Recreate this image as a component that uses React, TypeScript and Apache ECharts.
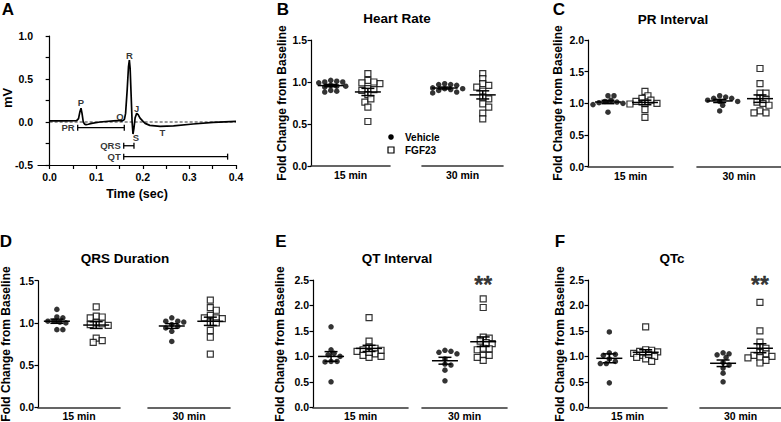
import React, { useEffect, useRef } from 'react';
import * as echarts from 'echarts';

const FONT = '"Liberation Sans", Arial, Helvetica, sans-serif';

// ---------- Panel A: representative ECG trace ----------
const ecgTime = [0, 0.03, 0.058, 0.062, 0.065, 0.0673, 0.0695, 0.0722, 0.075, 0.078, 0.083, 0.09, 0.108, 0.137, 0.158, 0.1605, 0.163, 0.1665, 0.1692, 0.1711, 0.1728, 0.175, 0.177, 0.1789, 0.181, 0.1835, 0.1868, 0.19, 0.194, 0.2, 0.205, 0.215, 0.237, 0.266, 0.308, 0.351, 0.4];
const ecgMv = [0.012, 0.014, 0.016, 0.04, 0.12, 0.16, 0.1, 0.0, -0.025, -0.031, -0.026, -0.016, 0.0, 0.012, 0.019, 0.03, 0.1, 0.38, 0.64, 0.72, 0.62, 0.3, 0.0, -0.14, -0.07, 0.05, 0.1, 0.085, 0.045, 0.01, -0.016, -0.039, -0.05, -0.046, -0.023, -0.004, 0.008];
const ecgWaveNames = ['P', 'Q', 'R', 'S', 'J', 'T'];
const ecgWaveTime = [0.0673, 0.151, 0.1711, 0.1853, 0.1868, 0.2418];
const ecgWaveMv = [0.224, 0.062, 0.779, -0.178, 0.159, -0.12];
const intervalNames = ['PR', 'QRS', 'QT'];
const intervalStart = [0.0602, 0.159, 0.159];
const intervalEnd = [0.1602, 0.181, 0.382];
const intervalLevel = [-0.066, -0.276, -0.403];
const ecgTickValues = [0, 0.05, 0.1, 0.15, 0.2, 0.25, 0.3, 0.35, 0.4];
const ecgLabelValues = [0, 0.1, 0.2, 0.3, 0.4];

// ---------- Panels B-F: fold change from baseline ----------
const groups = ['Vehicle', 'FGF23'];
const timepoints = ['15 min', '30 min'];

const hrVehicle15 = [1.02, 1.0, 0.99, 1.0, 1.01, 0.96, 0.95, 0.94, 0.95, 0.9, 0.88, 0.89];
const hrFgf15 = [1.1, 1.02, 0.99, 0.98, 1.0, 0.92, 0.9, 0.91, 0.85, 0.76, 0.8, 0.7, 0.53];
const hrVehicle30 = [0.97, 0.98, 0.97, 0.96, 0.92, 0.93, 0.91, 0.92, 0.9, 0.88, 0.87];
const hrFgf30 = [1.1, 1.04, 0.98, 0.96, 0.94, 0.89, 0.8, 0.82, 0.74, 0.7, 0.63, 0.56];

const prVehicle15 = [1.12, 1.12, 1.05, 1.03, 1.02, 1.0, 1.01, 0.98, 0.86];
const prFgf15 = [1.19, 1.12, 1.08, 1.05, 1.03, 1.0, 1.0, 0.99, 0.9, 0.78];
const prVehicle30 = [1.12, 1.08, 1.08, 1.05, 1.03, 1.03, 1.1, 0.97, 0.88];
const prFgf30 = [1.55, 1.31, 1.16, 1.16, 1.08, 1.06, 1.02, 1.0, 0.97, 0.88, 0.85, 0.85];

const qrsVehicle15 = [1.16, 1.07, 1.06, 1.02, 1.01, 1.0, 1.02, 0.92, 0.92];
const qrsFgf15 = [1.19, 1.08, 1.06, 1.07, 1.0, 0.98, 0.99, 0.97, 0.82, 0.77, 0.79];
const qrsVehicle30 = [1.02, 1.01, 1.02, 1.06, 0.98, 0.96, 0.94, 0.9, 0.78];
const qrsFgf30 = [1.27, 1.18, 1.15, 1.09, 1.06, 1.06, 1.05, 1.0, 1.0, 0.91, 0.83, 0.63];

const qtVehicle15 = [1.58, 1.13, 1.06, 1.03, 1.0, 0.9, 0.9, 0.89, 0.5];
const qtFgf15 = [1.76, 1.3, 1.16, 1.13, 1.18, 1.1, 1.12, 1.05, 1.0, 1.02, 0.98, 1.08];
const qtVehicle30 = [1.1, 1.08, 1.05, 1.12, 0.95, 0.83, 0.85, 0.73, 0.52];
const qtFgf30 = [2.13, 1.96, 1.38, 1.36, 1.3, 1.27, 1.25, 1.16, 1.15, 1.13, 1.02, 0.92, 0.98, 1.02];

const qtcVehicle15 = [1.48, 1.07, 1.04, 1.02, 0.95, 0.9, 0.86, 0.86, 0.48];
const qtcFgf15 = [1.58, 1.12, 1.13, 1.1, 1.09, 1.06, 1.02, 1.0, 0.98, 0.95, 0.9, 1.04];
const qtcVehicle30 = [1.05, 1.03, 1.07, 0.98, 0.88, 0.83, 0.77, 0.67, 0.5];
const qtcFgf30 = [2.06, 1.5, 1.28, 1.18, 1.16, 1.08, 1.05, 1.02, 0.98, 1.0, 0.92, 0.87, 0.97];

const panelTitles = ['Heart Rate', 'PR Interval', 'QRS Duration', 'QT Interval', 'QTc'];
const panelLetters = ['B', 'C', 'D', 'E', 'F'];
const panelYMax = [1.5, 2.0, 1.5, 2.5, 2.5];
// significance marks: [panel index, timepoint index, group index, mark]
const significance: [number, number, number, string][] = [
  [3, 1, 1, '**'],
  [4, 1, 1, '**'],
];

const panelData = [
  [[hrVehicle15, hrFgf15], [hrVehicle30, hrFgf30]],
  [[prVehicle15, prFgf15], [prVehicle30, prFgf30]],
  [[qrsVehicle15, qrsFgf15], [qrsVehicle30, qrsFgf30]],
  [[qtVehicle15, qtFgf15], [qtVehicle30, qtFgf30]],
  [[qtcVehicle15, qtcFgf15], [qtcVehicle30, qtcFgf30]],
];

// ---------- layout (pixels) ----------
const layout = [
  { top: 40, height: 126, segs: [[311, 79], [422, 81]], gx: [[0.25, 0.72], [0.28, 0.75]], ylab: [282, 103], letter: [283, 9], title: [397, 18] },
  { top: 40, height: 126.7, segs: [[588, 85], [697, 84]], gx: [[0.235, 0.67], [0.27, 0.75]], ylab: [558, 103], letter: [559, 9], title: [673, 19] },
  { top: 280.7, height: 126.6, segs: [[38, 82], [148, 82]], gx: [[0.23, 0.71], [0.29, 0.76]], ylab: [6, 344], letter: [6, 241], title: [125, 258] },
  { top: 280, height: 127.3, segs: [[313, 95], [422, 85]], gx: [[0.19, 0.59], [0.27, 0.72]], ylab: [280, 344], letter: [281, 241], title: [397, 258] },
  { top: 280, height: 127.3, segs: [[588, 79], [700, 81]], gx: [[0.27, 0.73], [0.285, 0.74]], ylab: [560, 344], letter: [560, 241], title: [672, 258] },
];

const mean = (a: number[]) => a.reduce((s, v) => s + v, 0) / a.length;
const sem = (a: number[]) => {
  const m = mean(a);
  const sd = Math.sqrt(a.reduce((s, v) => s + (v - m) * (v - m), 0) / (a.length - 1));
  return sd / Math.sqrt(a.length);
};

// beeswarm layout: horizontal offsets so that markers do not overlap too much
function swarm(values: number[], center: number, segW: number, pxPerUnit: number) {
  const minDist = 4.6;
  const step = 3;
  const order = values.map((_, i) => i).sort((a, b) => values[b] - values[a]);
  const placed: { x: number; y: number }[] = [];
  const xs: number[] = new Array(values.length);
  for (const i of order) {
    const y = values[i] * pxPerUnit;
    let off = 0;
    for (let n = 0; n < 60; n++) {
      off = n === 0 ? 0 : (n % 2 === 1 ? 1 : -1) * Math.ceil(n / 2) * step;
      if (placed.every((p) => Math.hypot(p.x - off, p.y - y) >= minDist)) break;
    }
    placed.push({ x: off, y });
    xs[i] = center + off / segW;
  }
  return xs;
}

const txt = (text: string, x: number, y: number, size: number, opts: any = {}) => ({
  type: 'text',
  x,
  y,
  rotation: opts.rotation || 0,
  silent: true,
  style: {
    text,
    fontFamily: FONT,
    fontWeight: 'bold',
    fontSize: size,
    fill: '#000',
    align: opts.align || 'center',
    verticalAlign: 'middle',
    textAlign: opts.align || 'center',
    textVerticalAlign: 'middle',
  },
});

const boldText = { fontFamily: FONT, fontWeight: 'bold' as const, color: '#000' };

function buildOption() {
  const grids: any[] = [];
  const xAxes: any[] = [];
  const yAxes: any[] = [];
  const series: any[] = [];
  const graphics: any[] = [];

  // ----- Panel A -----
  grids.push({ left: 38, top: 36, width: 198, height: 129, outerBoundsMode: 'none', containLabel: false });
  xAxes.push({
    gridIndex: 0,
    type: 'value',
    min: -0.025,
    max: 0.4,
    axisLine: { show: true, onZero: false, lineStyle: { color: '#000', width: 1.2 } },
    axisTick: { show: true, length: 4, customValues: ecgTickValues, lineStyle: { color: '#000', width: 1.2 } },
    axisLabel: { show: true, customValues: ecgLabelValues, formatter: (v: number) => v.toFixed(1), fontSize: 10.5, margin: 6, ...boldText },
    splitLine: { show: false },
  });
  yAxes.push({
    gridIndex: 0,
    type: 'value',
    min: -0.5,
    max: 1.0,
    interval: 0.5,
    axisLine: { show: true, lineStyle: { color: '#000', width: 1.2 } },
    axisTick: { show: true, length: 4, lineStyle: { color: '#000', width: 1.2 } },
    minorTick: { show: true, splitNumber: 2, length: 4, lineStyle: { color: '#000', width: 1.2 } },
    minorSplitLine: { show: false },
    axisLabel: { formatter: (v: number) => v.toFixed(1), fontSize: 10.5, margin: 5, ...boldText },
    splitLine: { show: false },
  });
  series.push({
    type: 'line',
    xAxisIndex: 0,
    yAxisIndex: 0,
    data: [[0, 0], [0.4, 0]],
    symbol: 'none',
    silent: true,
    lineStyle: { color: '#000', width: 0.8, type: [3, 2] },
  });
  series.push({
    type: 'line',
    xAxisIndex: 0,
    yAxisIndex: 0,
    data: ecgTime.map((t, i) => [t, ecgMv[i]]),
    symbol: 'none',
    silent: true,
    lineStyle: { color: '#000', width: 1.7 },
  });
  series.push({
    type: 'scatter',
    xAxisIndex: 0,
    yAxisIndex: 0,
    data: ecgWaveTime.map((t, i) => [t, ecgWaveMv[i]]),
    symbolSize: 0,
    silent: true,
    itemStyle: { color: 'transparent' },
    label: { show: true, position: 'inside', formatter: (p: any) => ecgWaveNames[p.dataIndex], fontSize: 9.5, ...boldText },
  });
  series.push({
    type: 'custom',
    xAxisIndex: 0,
    yAxisIndex: 0,
    silent: true,
    data: intervalStart.map((s, i) => [s, intervalEnd[i], intervalLevel[i]]),
    encode: { x: [0, 1], y: 2 },
    renderItem: (_params: any, api: any) => {
      const a = api.coord([api.value(0), api.value(2)]);
      const b = api.coord([api.value(1), api.value(2)]);
      const style = { stroke: '#000', lineWidth: 1.3 };
      return {
        type: 'group',
        children: [
          { type: 'line', shape: { x1: a[0], y1: a[1], x2: b[0], y2: b[1] }, style },
          { type: 'line', shape: { x1: a[0], y1: a[1] - 3, x2: a[0], y2: a[1] + 3 }, style },
          { type: 'line', shape: { x1: b[0], y1: b[1] - 3, x2: b[0], y2: b[1] + 3 }, style },
        ],
      };
    },
  });
  series.push({
    type: 'scatter',
    xAxisIndex: 0,
    yAxisIndex: 0,
    data: intervalStart.map((s, i) => [s, intervalLevel[i]]),
    symbolSize: 0,
    silent: true,
    itemStyle: { color: 'transparent' },
    label: { show: true, position: 'left', distance: 3, formatter: (p: any) => intervalNames[p.dataIndex], fontSize: 9.5, ...boldText },
  });
  graphics.push(txt('A', 8, 9, 17));
  graphics.push(txt('mV', 7, 98, 13, { rotation: Math.PI / 2 }));
  graphics.push(txt('Time (sec)', 137, 194, 12.5));

  // ----- Panels B-F -----
  panelData.forEach((pd, p) => {
    const L = layout[p];
    const yMax = panelYMax[p];
    const pxPerUnit = L.height / yMax;
    pd.forEach((segData, s) => {
      const gi = grids.length;
      const [left, width] = L.segs[s];
      grids.push({ left, top: L.top, width, height: L.height, outerBoundsMode: 'none', containLabel: false });
      xAxes.push({
        gridIndex: gi,
        type: 'value',
        min: 0,
        max: 1,
        axisLine: { show: true, onZero: false, lineStyle: { color: '#333', width: 1.6 } },
        axisTick: { show: false },
        axisLabel: { show: false },
        splitLine: { show: false },
      });
      yAxes.push({
        gridIndex: gi,
        type: 'value',
        min: 0,
        max: yMax,
        interval: 0.5,
        show: s === 0,
        axisLine: { show: true, lineStyle: { color: '#000', width: 1.2 } },
        axisTick: { show: true, length: 3.5, lineStyle: { color: '#000', width: 1.2 } },
        axisLabel: { formatter: (v: number) => v.toFixed(1), fontSize: 10.5, margin: 4, ...boldText },
        splitLine: { show: false },
      });
      graphics.push(txt(timepoints[s], left + width / 2, L.top + L.height + 9, 10.5));
      segData.forEach((vals, g) => {
        const center = L.gx[s][g];
        const xs = swarm(vals, center, width, pxPerUnit);
        series.push({
          name: groups[g],
          type: 'scatter',
          xAxisIndex: gi,
          yAxisIndex: gi,
          silent: true,
          data: vals.map((v, i) => [xs[i], v]),
          symbol: g === 0 ? 'circle' : 'rect',
          symbolSize: g === 0 ? 5.5 : 6,
          itemStyle: g === 0 ? { color: '#000' } : { color: '#fff', borderColor: '#000', borderWidth: 1.2 },
          z: 2,
        });
        series.push({
          type: 'custom',
          xAxisIndex: gi,
          yAxisIndex: gi,
          silent: true,
          z: 3,
          data: [[center, mean(vals), sem(vals)]],
          encode: { x: 0, y: 1 },
          renderItem: (_params: any, api: any) => {
            const c = api.coord([api.value(0), api.value(1)]);
            const hi = api.coord([api.value(0), api.value(1) + api.value(2)]);
            const lo = api.coord([api.value(0), api.value(1) - api.value(2)]);
            const style = { stroke: '#000', lineWidth: 1.5 };
            return {
              type: 'group',
              children: [
                { type: 'line', shape: { x1: c[0] - 13, y1: c[1], x2: c[0] + 13, y2: c[1] }, style },
                { type: 'line', shape: { x1: c[0], y1: hi[1], x2: c[0], y2: lo[1] }, style },
                { type: 'line', shape: { x1: c[0] - 6.5, y1: hi[1], x2: c[0] + 6.5, y2: hi[1] }, style },
                { type: 'line', shape: { x1: c[0] - 6.5, y1: lo[1], x2: c[0] + 6.5, y2: lo[1] }, style },
              ],
            };
          },
        });
      });
      significance
        .filter(([pi, si]) => pi === p && si === s)
        .forEach(([, , g, mark]) => {
          series.push({
            type: 'scatter',
            xAxisIndex: gi,
            yAxisIndex: gi,
            silent: true,
            data: [[L.gx[s][g], yMax]],
            symbolSize: 0,
            itemStyle: { color: 'transparent' },
            label: {
              show: true,
              position: 'inside',
              formatter: mark,
              fontSize: 23,
              offset: [0, 5],
              textBorderColor: '#000',
              textBorderWidth: 0.3,
              ...boldText,
            },
          });
        });
    });
    graphics.push(txt(panelLetters[p], L.letter[0], L.letter[1], 17));
    graphics.push(txt(panelTitles[p], L.title[0], L.title[1], 13.5));
    graphics.push(txt('Fold Change from Baseline', L.ylab[0], L.ylab[1], 12, { rotation: Math.PI / 2 }));
  });

  // legend inside panel B
  graphics.push({ type: 'circle', shape: { cx: 391, cy: 137, r: 2.8 }, style: { fill: '#000' }, silent: true });
  graphics.push({ type: 'rect', shape: { x: 388, y: 147, width: 6, height: 6 }, style: { fill: '#fff', stroke: '#000', lineWidth: 1.2 }, silent: true });
  graphics.push(txt(groups[0], 405, 137, 10, { align: 'left' }));
  graphics.push(txt(groups[1], 405, 150, 10, { align: 'left' }));

  return {
    animation: false,
    backgroundColor: '#fff',
    textStyle: { fontFamily: FONT },
    grid: grids,
    xAxis: xAxes,
    yAxis: yAxes,
    series,
    graphic: graphics,
  };
}

export default function App() {
  const ref = useRef<HTMLDivElement>(null);
  useEffect(() => {
    if (!ref.current) return;
    const chart = echarts.init(ref.current, null, { renderer: 'svg' });
    chart.setOption(buildOption() as any);
    return () => chart.dispose();
  }, []);
  return (
    <div
      ref={ref}
      style={{ position: 'fixed', left: 0, top: 0, width: 781, height: 422, background: '#fff' }}
    />
  );
}
